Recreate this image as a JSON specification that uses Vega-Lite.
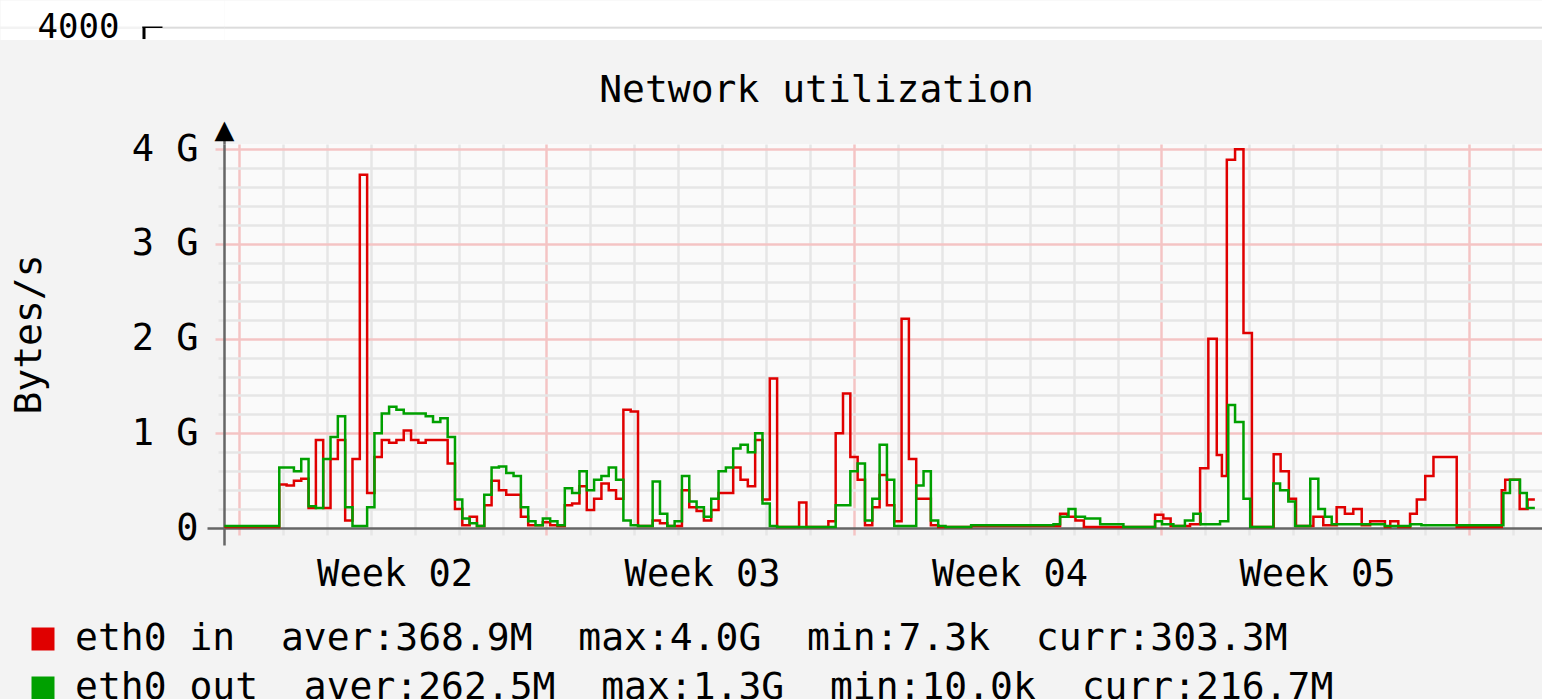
{
"$schema":"https://vega.github.io/schema/vega-lite/v6.json",
"width":1318,"height":384,
"autosize":{"type":"none"},
"padding":{"left":224,"top":144,"right":0,"bottom":171},
"background":"#f3f3f3",
"config":{"view":{"fill":"#fafafa","stroke":null},"font":"DejaVu Sans Mono",
 "axis":{"labelFont":"DejaVu Sans Mono","titleFont":"DejaVu Sans Mono","labelColor":"#000000","titleColor":"#000000","titleFontWeight":"normal"},
 "legend":{"labelFont":"DejaVu Sans Mono"}},
"datasets":{"net":[
{"s":"eth0 in","h":-8,"g":0.01},{"s":"eth0 in","h":22,"g":0.46},{"s":"eth0 in","h":26,"g":0.45},{"s":"eth0 in","h":30,"g":0.5},{"s":"eth0 in","h":34,"g":0.52},{"s":"eth0 in","h":38,"g":0.21},{"s":"eth0 in","h":42,"g":0.93},{"s":"eth0 in","h":46,"g":0.21},{"s":"eth0 in","h":50,"g":0.73},{"s":"eth0 in","h":54,"g":0.93},{"s":"eth0 in","h":58,"g":0.08},{"s":"eth0 in","h":62,"g":0.73},{"s":"eth0 in","h":66,"g":3.73},{"s":"eth0 in","h":70,"g":0.37},{"s":"eth0 in","h":74,"g":0.75},{"s":"eth0 in","h":78,"g":0.93},{"s":"eth0 in","h":82,"g":0.9},{"s":"eth0 in","h":86,"g":0.93},{"s":"eth0 in","h":90,"g":1.03},{"s":"eth0 in","h":94,"g":0.93},{"s":"eth0 in","h":98,"g":0.9},{"s":"eth0 in","h":102,"g":0.93},{"s":"eth0 in","h":114,"g":0.68},{"s":"eth0 in","h":118,"g":0.2},{"s":"eth0 in","h":122,"g":0.03},{"s":"eth0 in","h":126,"g":0.12},{"s":"eth0 in","h":130,"g":0.02},{"s":"eth0 in","h":134,"g":0.24},{"s":"eth0 in","h":138,"g":0.5},{"s":"eth0 in","h":142,"g":0.4},{"s":"eth0 in","h":146,"g":0.35},{"s":"eth0 in","h":154,"g":0.12},{"s":"eth0 in","h":158,"g":0.03},{"s":"eth0 in","h":166,"g":0.06},{"s":"eth0 in","h":170,"g":0.03},{"s":"eth0 in","h":174,"g":0.02},{"s":"eth0 in","h":178,"g":0.24},{"s":"eth0 in","h":182,"g":0.26},{"s":"eth0 in","h":186,"g":0.44},{"s":"eth0 in","h":190,"g":0.19},{"s":"eth0 in","h":194,"g":0.31},{"s":"eth0 in","h":198,"g":0.47},{"s":"eth0 in","h":202,"g":0.4},{"s":"eth0 in","h":206,"g":0.31},{"s":"eth0 in","h":210,"g":1.25},{"s":"eth0 in","h":214,"g":1.23},{"s":"eth0 in","h":218,"g":0.02},{"s":"eth0 in","h":226,"g":0.08},{"s":"eth0 in","h":230,"g":0.05},{"s":"eth0 in","h":234,"g":0.02},{"s":"eth0 in","h":242,"g":0.4},{"s":"eth0 in","h":246,"g":0.22},{"s":"eth0 in","h":250,"g":0.18},{"s":"eth0 in","h":254,"g":0.08},{"s":"eth0 in","h":258,"g":0.19},{"s":"eth0 in","h":262,"g":0.37},{"s":"eth0 in","h":270,"g":0.64},{"s":"eth0 in","h":274,"g":0.51},{"s":"eth0 in","h":278,"g":0.44},{"s":"eth0 in","h":282,"g":0.93},{"s":"eth0 in","h":286,"g":0.3},{"s":"eth0 in","h":290,"g":1.58},{"s":"eth0 in","h":294,"g":0.01},{"s":"eth0 in","h":306,"g":0.27},{"s":"eth0 in","h":310,"g":0.01},{"s":"eth0 in","h":322,"g":0.07},{"s":"eth0 in","h":326,"g":1.0},{"s":"eth0 in","h":330,"g":1.42},{"s":"eth0 in","h":334,"g":0.75},{"s":"eth0 in","h":338,"g":0.51},{"s":"eth0 in","h":342,"g":0.03},{"s":"eth0 in","h":346,"g":0.22},{"s":"eth0 in","h":350,"g":0.56},{"s":"eth0 in","h":354,"g":0.24},{"s":"eth0 in","h":358,"g":0.07},{"s":"eth0 in","h":362,"g":2.21},{"s":"eth0 in","h":366,"g":0.73},{"s":"eth0 in","h":370,"g":0.31},{"s":"eth0 in","h":378,"g":0.03},{"s":"eth0 in","h":382,"g":0.01},{"s":"eth0 in","h":400,"g":0.02},{"s":"eth0 in","h":448.6,"g":0.15},{"s":"eth0 in","h":452.6,"g":0.12},{"s":"eth0 in","h":457,"g":0.08},{"s":"eth0 in","h":461.6,"g":0.01},{"s":"eth0 in","h":500.5,"g":0.14},{"s":"eth0 in","h":505,"g":0.1},{"s":"eth0 in","h":509,"g":0.02},{"s":"eth0 in","h":519.6,"g":0.04},{"s":"eth0 in","h":525.1,"g":0.63},{"s":"eth0 in","h":529.6,"g":2.0},{"s":"eth0 in","h":534.2,"g":0.77},{"s":"eth0 in","h":537,"g":0.55},{"s":"eth0 in","h":539.7,"g":3.89},{"s":"eth0 in","h":544.2,"g":4.0},{"s":"eth0 in","h":548.8,"g":2.06},{"s":"eth0 in","h":553.4,"g":0.01},{"s":"eth0 in","h":565.3,"g":0.78},{"s":"eth0 in","h":569.1,"g":0.6},{"s":"eth0 in","h":573.6,"g":0.31},{"s":"eth0 in","h":577.5,"g":0.02},{"s":"eth0 in","h":587,"g":0.12},{"s":"eth0 in","h":592.4,"g":0.03},{"s":"eth0 in","h":599.7,"g":0.22},{"s":"eth0 in","h":604.2,"g":0.15},{"s":"eth0 in","h":608.8,"g":0.2},{"s":"eth0 in","h":613.4,"g":0.03},{"s":"eth0 in","h":618,"g":0.07},{"s":"eth0 in","h":626.1,"g":0.01},{"s":"eth0 in","h":629,"g":0.07},{"s":"eth0 in","h":633.4,"g":0.01},{"s":"eth0 in","h":639.8,"g":0.15},{"s":"eth0 in","h":643.5,"g":0.3},{"s":"eth0 in","h":648.1,"g":0.55},{"s":"eth0 in","h":652.6,"g":0.75},{"s":"eth0 in","h":665.3,"g":0.01},{"s":"eth0 in","h":689.9,"g":0.4},{"s":"eth0 in","h":691.8,"g":0.51},{"s":"eth0 in","h":699.7,"g":0.2},{"s":"eth0 in","h":704,"g":0.3},{"s":"eth0 in","h":708,"g":0.3},
{"s":"eth0 out","h":-8,"g":0.02},{"s":"eth0 out","h":22,"g":0.64},{"s":"eth0 out","h":30,"g":0.6},{"s":"eth0 out","h":34,"g":0.73},{"s":"eth0 out","h":38,"g":0.23},{"s":"eth0 out","h":42,"g":0.21},{"s":"eth0 out","h":46,"g":0.73},{"s":"eth0 out","h":50,"g":0.96},{"s":"eth0 out","h":54,"g":1.18},{"s":"eth0 out","h":58,"g":0.22},{"s":"eth0 out","h":62,"g":0.02},{"s":"eth0 out","h":70,"g":0.22},{"s":"eth0 out","h":74,"g":1.0},{"s":"eth0 out","h":78,"g":1.21},{"s":"eth0 out","h":82,"g":1.28},{"s":"eth0 out","h":86,"g":1.25},{"s":"eth0 out","h":90,"g":1.21},{"s":"eth0 out","h":102,"g":1.18},{"s":"eth0 out","h":106,"g":1.12},{"s":"eth0 out","h":110,"g":1.16},{"s":"eth0 out","h":114,"g":0.96},{"s":"eth0 out","h":118,"g":0.3},{"s":"eth0 out","h":122,"g":0.1},{"s":"eth0 out","h":126,"g":0.05},{"s":"eth0 out","h":130,"g":0.02},{"s":"eth0 out","h":134,"g":0.35},{"s":"eth0 out","h":138,"g":0.64},{"s":"eth0 out","h":142,"g":0.65},{"s":"eth0 out","h":146,"g":0.58},{"s":"eth0 out","h":150,"g":0.55},{"s":"eth0 out","h":154,"g":0.22},{"s":"eth0 out","h":158,"g":0.07},{"s":"eth0 out","h":162,"g":0.03},{"s":"eth0 out","h":166,"g":0.1},{"s":"eth0 out","h":170,"g":0.07},{"s":"eth0 out","h":174,"g":0.03},{"s":"eth0 out","h":178,"g":0.42},{"s":"eth0 out","h":182,"g":0.37},{"s":"eth0 out","h":186,"g":0.6},{"s":"eth0 out","h":190,"g":0.4},{"s":"eth0 out","h":194,"g":0.51},{"s":"eth0 out","h":198,"g":0.55},{"s":"eth0 out","h":202,"g":0.64},{"s":"eth0 out","h":206,"g":0.51},{"s":"eth0 out","h":210,"g":0.08},{"s":"eth0 out","h":214,"g":0.03},{"s":"eth0 out","h":218,"g":0.02},{"s":"eth0 out","h":226,"g":0.49},{"s":"eth0 out","h":230,"g":0.15},{"s":"eth0 out","h":234,"g":0.02},{"s":"eth0 out","h":238,"g":0.07},{"s":"eth0 out","h":242,"g":0.55},{"s":"eth0 out","h":246,"g":0.28},{"s":"eth0 out","h":250,"g":0.22},{"s":"eth0 out","h":254,"g":0.12},{"s":"eth0 out","h":258,"g":0.31},{"s":"eth0 out","h":262,"g":0.6},{"s":"eth0 out","h":266,"g":0.64},{"s":"eth0 out","h":270,"g":0.84},{"s":"eth0 out","h":274,"g":0.88},{"s":"eth0 out","h":278,"g":0.8},{"s":"eth0 out","h":282,"g":1.0},{"s":"eth0 out","h":286,"g":0.26},{"s":"eth0 out","h":290,"g":0.02},{"s":"eth0 out","h":294,"g":0.01},{"s":"eth0 out","h":326,"g":0.24},{"s":"eth0 out","h":334,"g":0.6},{"s":"eth0 out","h":338,"g":0.68},{"s":"eth0 out","h":342,"g":0.08},{"s":"eth0 out","h":346,"g":0.31},{"s":"eth0 out","h":350,"g":0.88},{"s":"eth0 out","h":354,"g":0.51},{"s":"eth0 out","h":358,"g":0.02},{"s":"eth0 out","h":370,"g":0.45},{"s":"eth0 out","h":374,"g":0.6},{"s":"eth0 out","h":378,"g":0.08},{"s":"eth0 out","h":382,"g":0.02},{"s":"eth0 out","h":386,"g":0.01},{"s":"eth0 out","h":400,"g":0.03},{"s":"eth0 out","h":445,"g":0.04},{"s":"eth0 out","h":448.6,"g":0.12},{"s":"eth0 out","h":453.2,"g":0.2},{"s":"eth0 out","h":457,"g":0.12},{"s":"eth0 out","h":462.2,"g":0.1},{"s":"eth0 out","h":470.5,"g":0.04},{"s":"eth0 out","h":483.2,"g":0.01},{"s":"eth0 out","h":500.5,"g":0.07},{"s":"eth0 out","h":504.3,"g":0.04},{"s":"eth0 out","h":510.5,"g":0.02},{"s":"eth0 out","h":516.8,"g":0.08},{"s":"eth0 out","h":521.4,"g":0.15},{"s":"eth0 out","h":525.4,"g":0.04},{"s":"eth0 out","h":536,"g":0.07},{"s":"eth0 out","h":540.5,"g":1.3},{"s":"eth0 out","h":544.2,"g":1.12},{"s":"eth0 out","h":548.8,"g":0.31},{"s":"eth0 out","h":552.5,"g":0.01},{"s":"eth0 out","h":565.1,"g":0.47},{"s":"eth0 out","h":568.8,"g":0.4},{"s":"eth0 out","h":573.3,"g":0.28},{"s":"eth0 out","h":577,"g":0.02},{"s":"eth0 out","h":585.3,"g":0.52},{"s":"eth0 out","h":589.7,"g":0.2},{"s":"eth0 out","h":593.3,"g":0.12},{"s":"eth0 out","h":597,"g":0.04},{"s":"eth0 out","h":626,"g":0.02},{"s":"eth0 out","h":640,"g":0.04},{"s":"eth0 out","h":646,"g":0.03},{"s":"eth0 out","h":690.8,"g":0.37},{"s":"eth0 out","h":694.4,"g":0.51},{"s":"eth0 out","h":699.9,"g":0.37},{"s":"eth0 out","h":703.6,"g":0.21},{"s":"eth0 out","h":708,"g":0.21}
]},
"data":{"name":"net"},
"layer":[
{"mark":{"type":"line","interpolate":"step-after","strokeWidth":2.5},
 "encoding":{
  "x":{"field":"h","type":"quantitative","scale":{"domain":[-8.2,711.9],"nice":false,"zero":false},
   "axis":{"orient":"bottom","title":null,
    "values":[-8.2,0,24,48,72,96,120,144,168,192,216,240,264,288,312,336,360,384,408,432,456,480,504,528,552,576,600,624,648,672,696,85,253,421,589],
    "grid":true,"gridWidth":2.5,"tickWidth":2.5,
    "gridColor":{"condition":[{"test":"datum.value % 168 == 0","value":"#f4c4c4"},{"test":"datum.value % 24 == 0","value":"#e6e6e6"}],"value":"transparent"},
    "tickColor":{"condition":[{"test":"datum.value < -1","value":"#666666"},{"test":"datum.value % 168 == 0","value":"#f4c4c4"},{"test":"datum.value % 24 == 0","value":"#e6e6e6"}],"value":"transparent"},
    "tickSize":{"condition":{"test":"datum.value < -1","value":17},"value":7},
    "domainColor":"#666666","domainWidth":2.5,
    "labelExpr":"datum.value == 85 ? 'Week 02' : (datum.value == 253 ? 'Week 03' : (datum.value == 421 ? 'Week 04' : (datum.value == 589 ? 'Week 05' : '')))",
    "labelFontSize":37,"labelOverlap":false,"labelFlush":false,"labelBound":false,
    "labelBaseline":"alphabetic","labelPadding":50}},
  "y":{"field":"g","type":"quantitative","scale":{"domain":[0,4.056],"nice":false},
   "axis":{"orient":"left",
    "values":[0,0.2,0.4,0.6,0.8,1,1.2,1.4,1.6,1.8,2,2.2,2.4,2.6,2.8,3,3.2,3.4,3.6,3.8,4],
    "grid":true,"gridWidth":2.5,"tickWidth":2.5,
    "gridColor":{"condition":[{"test":"datum.value == 0","value":"transparent"},{"test":"abs(datum.value - round(datum.value)) < 0.001","value":"#f4c4c4"}],"value":"#e6e6e6"},
    "tickColor":{"condition":[{"test":"datum.value == 0","value":"#666666"},{"test":"abs(datum.value - round(datum.value)) < 0.001","value":"#f4c4c4"}],"value":"#e6e6e6"},
    "tickSize":{"condition":[{"test":"datum.value == 0","value":17},{"test":"abs(datum.value - round(datum.value)) < 0.001","value":9}],"value":6},
    "labelPadding":{"condition":[{"test":"datum.value == 0","value":9},{"test":"abs(datum.value - round(datum.value)) < 0.001","value":17}],"value":20},
    "domainColor":"#666666","domainWidth":2.5,
    "labelExpr":"abs(datum.value - round(datum.value)) < 0.001 ? (datum.value == 0 ? '0' : round(datum.value) + ' G') : ''",
    "labelFontSize":37,"labelOverlap":false,"labelFlush":false,"labelBound":false,
    "title":"Bytes/s","titleFontSize":38,"titleX":-184,"titleY":190,"titleAngle":-90,"titleAlign":"center","titleBaseline":"alphabetic"}},
  "color":{"field":"s","type":"nominal","scale":{"domain":["eth0 in","eth0 out"],"range":["#e00000","#00a000"]},
   "legend":{"orient":"none","legendX":-200,"legendY":476,"direction":"vertical","title":null,
    "symbolType":"square","symbolSize":121,"symbolStrokeWidth":12,
    "labelFontSize":38,"labelColor":"#000000","labelLimit":3000,"labelOffset":13,"rowPadding":-16,"padding":0,
    "labelExpr":"datum.label == 'eth0 in' ? 'eth0 in\u00a0\u00a0aver:368.9M\u00a0\u00a0max:4.0G\u00a0\u00a0min:7.3k\u00a0\u00a0curr:303.3M' : 'eth0 out\u00a0\u00a0aver:262.5M\u00a0\u00a0max:1.3G\u00a0\u00a0min:10.0k\u00a0\u00a0curr:216.7M'"}}
 }},
{"mark":{"type":"point","opacity":0},
 "encoding":{
  "x":{"field":"h","type":"quantitative","scale":{"domain":[-8.2,711.9],"nice":false,"zero":false},
   "axis":{"orient":"top","values":[-8.2],"grid":false,"domain":false,"labels":false,
    "tickSize":12,"tickColor":"#666666","tickWidth":2.5,
    "title":"Network utilization","titleFontSize":38,"titleX":592,"titleY":-43,"titleAlign":"center","titleBaseline":"alphabetic","titleAngle":0}},
  "y":{"field":"g","type":"quantitative","scale":{"domain":[0,5.5773],"range":[384,-144],"nice":false,"zero":false},
   "axis":{"orient":"left","values":[5.44,5.223,5.239,5.292,5.302,4.209],"domain":false,"grid":true,"title":null,
    "gridColor":{"condition":[{"test":"datum.value > 5.4 || (datum.value > 5.2 && datum.value < 5.23)","value":"#ffffff"},{"test":"datum.value > 5.28 && datum.value < 5.298","value":"#dcdcdc"}],"value":"transparent"},
    "gridWidth":{"condition":[{"test":"datum.value > 5.4","value":26},{"test":"datum.value > 5.2 && datum.value < 5.23","value":11}],"value":2},
    "tickColor":{"condition":[{"test":"datum.value > 5.4 || (datum.value > 5.2 && datum.value < 5.23)","value":"#ffffff"},{"test":"datum.value > 5.28 && datum.value < 5.298","value":"#dcdcdc"},{"test":"(datum.value > 5.298 && datum.value < 5.31) || (datum.value > 5.23 && datum.value < 5.25)","value":"#000000"}],"value":"transparent"},
    "tickWidth":{"condition":[{"test":"datum.value > 5.4","value":26},{"test":"datum.value > 5.2 && datum.value < 5.23","value":11},{"test":"datum.value > 5.298 && datum.value < 5.31","value":3},{"test":"datum.value > 5.23 && datum.value < 5.25","value":13}],"value":2},
    "tickSize":{"condition":[{"test":"datum.value > 5.4 || (datum.value > 5.2 && datum.value < 5.23)","value":224},{"test":"datum.value > 5.28 && datum.value < 5.298","value":62},{"test":"(datum.value > 5.298 && datum.value < 5.31) || (datum.value > 5.23 && datum.value < 5.25)","value":82}],"value":0},
    "tickDash":{"condition":[{"test":"datum.value > 5.2 && datum.value < 5.23","value":[79,3,300]},{"test":"datum.value > 5.298 && datum.value < 5.31","value":[0,62,20,300]},{"test":"datum.value > 5.23 && datum.value < 5.25","value":[0,79,3,300]}],"value":[1000,0]},
    "labelPadding":{"condition":{"test":"datum.value > 4.1 && datum.value < 4.3","value":0},"value":43},
    "labelAlign":{"condition":{"test":"datum.value > 4.1 && datum.value < 4.3","value":"center"},"value":"right"},
    "labelFontSize":{"condition":{"test":"datum.value > 4.1 && datum.value < 4.3","value":33},"value":34},
    "labelExpr":"(datum.value > 5.28 && datum.value < 5.298) ? '4000' : ((datum.value > 4.1 && datum.value < 4.3) ? '▲' : '')",
    "labelOverlap":false,"labelFlush":false,"labelBound":false}}
 }}
],
"resolve":{"scale":{"y":"independent"},"axis":{"x":"independent","y":"independent"}}
}
